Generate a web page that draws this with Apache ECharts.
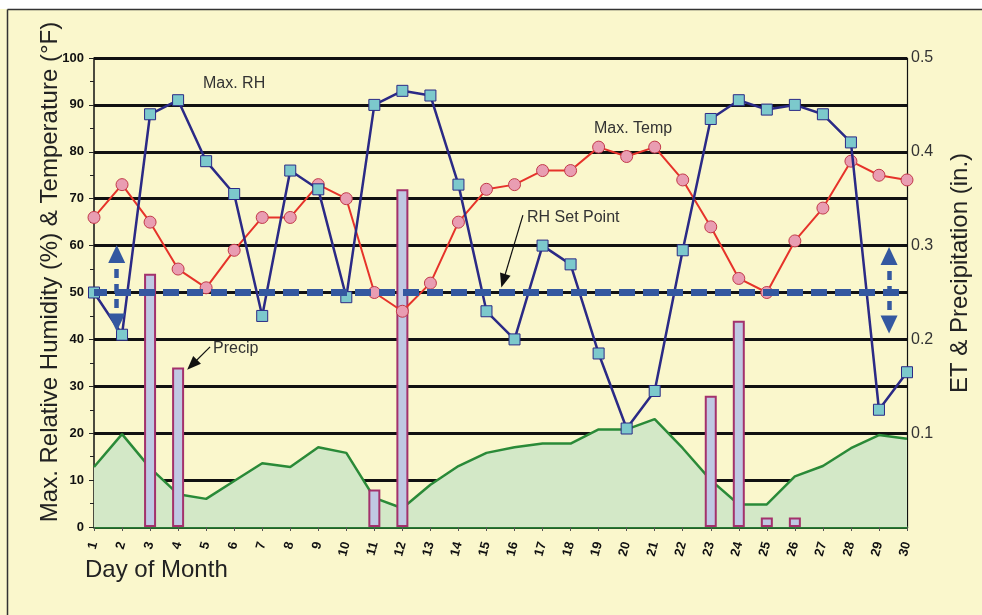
<!DOCTYPE html>
<html>
<head>
<meta charset="utf-8">
<script src="https://cdn.jsdelivr.net/npm/echarts@6/dist/echarts.min.js"></script>
<style>
  html, body { margin: 0; padding: 0; background: #fff; }
  #main { width: 982px; height: 615px; }
</style>
</head>
<body>
<div id="main"></div>
<script>
let chart = echarts.init(document.getElementById('main'));

/* day of month */
let days = [];
for (let d = 1; d <= 30; d++) days.push(d);
/* max relative humidity (%) */
let rhMax = [50,41,88,91,78,71,45,76,72,49,90,93,92,73,46,40,60,56,37,21,29,59,87,91,89,90,88,82,25,33];
/* max temperature (F) */
let tempMax = [66,73,65,55,51,59,66,66,73,70,50,46,52,65,72,73,76,76,81,79,81,74,64,53,50,61,68,78,75,74];
/* ET = 0.5 x Eto (in.) */
let et = [0.064,0.099,0.063,0.035,0.030,0.049,0.068,0.064,0.085,0.079,0.031,0.020,0.045,0.065,0.079,0.085,0.089,0.089,0.104,0.104,0.115,0.084,0.050,0.024,0.024,0.054,0.065,0.084,0.098,0.094];
/* precipitation (in.) */
let precip = [0,0,0.27,0.17,0,0,0,0,0,0,0.04,0.36,0,0,0,0,0,0,0,0,0,0,0.14,0.22,0.01,0.01,0,0,0,0];
/* RH set point (%) */
let setPoint = 50;

let pair = (arr) => days.map((d, i) => [d, arr[i]]);
let precipData = days.map((d, i) => precip[i] > 0 ? [d, precip[i]] : null).filter(v => v);

let blueArrow = {color: '#3458a0', width: 4.5, type: [9, 6]};
let blackArrow = {color: '#111', width: 1.2, type: 'solid'};

let option = {
    backgroundColor: '#faf7cc',
    animation: false,
    grid: {
        left: 94,
        right: 75,
        top: 58,
        bottom: 88,
        containLabel: false,
        outerBoundsMode: 'none'
    },
    xAxis: [{
        type: 'value',
        min: 1,
        max: 30,
        interval: 1,
        splitLine: {show: false},
        axisLine: {show: true, onZero: false, lineStyle: {color: '#2a7a34', width: 2.5}},
        axisTick: {show: true, length: 4, lineStyle: {color: '#555'}},
        axisLabel: {
            rotate: 75,
            margin: 15,
            color: '#111',
            fontFamily: 'Arial, Liberation Sans',
            fontWeight: 'bold',
            fontSize: 13
        }
    }],
    yAxis: [{
        type: 'value',
        min: 0,
        max: 100,
        interval: 10,
        axisLine: {show: true, lineStyle: {color: '#111', width: 1.5}},
        axisTick: {show: true, length: 5, lineStyle: {color: '#222'}},
        minorTick: {show: true, splitNumber: 2, length: 4, lineStyle: {color: '#222'}},
        splitLine: {show: true, lineStyle: {color: '#111', width: 3}},
        axisLabel: {
            margin: 10,
            color: '#111',
            fontFamily: 'Arial, Liberation Sans',
            fontWeight: 'bold',
            fontSize: 13
        }
    }, {
        type: 'value',
        position: 'right',
        min: 0,
        max: 0.5,
        interval: 0.1,
        axisLine: {show: true, lineStyle: {color: '#111', width: 1.2}},
        axisTick: {show: false},
        splitLine: {show: false},
        axisLabel: {
            margin: 4,
            color: '#333',
            fontFamily: 'Arial, Liberation Sans',
            fontSize: 16,
            formatter: v => v === 0 ? '' : v.toFixed(1)
        }
    }],
    graphic: [
        {type: 'rect', shape: {x: 0, y: 0, width: 982, height: 9}, style: {fill: '#fff'}},
        {type: 'line', shape: {x1: 7.5, y1: 9.5, x2: 982, y2: 9.5}, style: {stroke: '#333', lineWidth: 1.5}},
        {type: 'line', shape: {x1: 7.5, y1: 9.5, x2: 7.5, y2: 615}, style: {stroke: '#333', lineWidth: 1.5}},
        {type: 'text', x: 50, y: 272, rotation: Math.PI / 2,
            style: {text: 'Max. Relative Humidity (%) & Temperature (°F)', fill: '#222', font: '24px Arial, Liberation Sans', align: 'center', verticalAlign: 'middle'}},
        {type: 'text', x: 960, y: 273, rotation: Math.PI / 2,
            style: {text: 'ET & Precipitation (in.)', fill: '#222', font: '24px Arial, Liberation Sans', align: 'center', verticalAlign: 'middle'}},
        {type: 'text', x: 85, y: 570,
            style: {text: 'Day of Month', fill: '#222', font: '24px Arial, Liberation Sans', align: 'left', verticalAlign: 'middle'}},
        {type: 'text', x: 203, y: 84,
            style: {text: 'Max. RH', fill: '#333', font: '16px Arial, Liberation Sans', align: 'left', verticalAlign: 'middle'}},
        {type: 'text', x: 594, y: 129,
            style: {text: 'Max. Temp', fill: '#333', font: '16px Arial, Liberation Sans', align: 'left', verticalAlign: 'middle'}},
        {type: 'text', x: 527, y: 218,
            style: {text: 'RH Set Point', fill: '#333', font: '16px Arial, Liberation Sans', align: 'left', verticalAlign: 'middle'}},
        {type: 'text', x: 213, y: 349,
            style: {text: 'Precip', fill: '#333', font: '16px Arial, Liberation Sans', align: 'left', verticalAlign: 'middle'}},
        {type: 'text', x: 489, y: 466,
            style: {text: 'ET= 0.5 x Eto', fill: '#333', font: '16px Arial, Liberation Sans', align: 'left', verticalAlign: 'middle'}}
    ],
    series: [
    {
        name: 'ET',
        type: 'line',
        yAxisIndex: 1,
        data: pair(et),
        showSymbol: false,
        symbol: 'none',
        lineStyle: {color: '#2a8a38', width: 2.5},
        areaStyle: {color: '#d3e8c7', opacity: 1},
        z: 1
    },
    {
        name: 'Precip',
        type: 'bar',
        yAxisIndex: 1,
        data: precipData,
        barWidth: 12,
        itemStyle: {color: '#c0c8e3', borderColor: '#a3316c', borderWidth: 2},
        z: 2
    },
    {
        name: 'Max. Temp',
        type: 'line',
        data: pair(tempMax),
        symbol: 'circle',
        symbolSize: 12,
        lineStyle: {color: '#e6332a', width: 2},
        itemStyle: {color: '#e99db2', borderColor: '#c2384a', borderWidth: 1},
        z: 3
    },
    {
        name: 'Max. RH',
        type: 'line',
        data: pair(rhMax),
        symbol: 'rect',
        symbolSize: 11,
        lineStyle: {color: '#2b2a86', width: 2.5},
        itemStyle: {color: '#7cc9cc', borderColor: '#2b2a86', borderWidth: 1},
        z: 4
    },
    {
        name: 'RH Set Point',
        type: 'line',
        data: days.map(d => [d, setPoint]),
        showSymbol: false,
        symbol: 'none',
        lineStyle: {color: '#3458a0', width: 7, type: [16, 8], dashOffset: 3},
        z: 5,
        markLine: {
            silent: true,
            label: {show: false},
            symbol: ['triangle', 'triangle'],
            symbolSize: [17, 18],
            data: [
                [{coord: [1.81, 58.2], lineStyle: blueArrow}, {coord: [1.81, 43.6]}],
                [{coord: [29.36, 57.8], lineStyle: blueArrow}, {coord: [29.36, 43.2]}],
                [{coord: [16.3, 66.5], symbol: 'none', lineStyle: blackArrow}, {coord: [15.6, 52.5], symbol: 'triangle', symbolSize: [11, 14]}],
                [{coord: [5.14, 38.4], symbol: 'none', lineStyle: blackArrow}, {coord: [4.5, 34.6], symbol: 'triangle', symbolSize: [11, 14]}]
            ]
        }
    }]
};

chart.setOption(option);
</script>
</body>
</html>
